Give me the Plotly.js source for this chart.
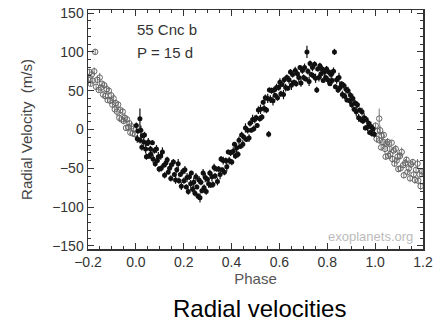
<!DOCTYPE html>
<html>
<head>
<meta charset="utf-8">
<script src="https://cdn.plot.ly/plotly-3.0.1.min.js"></script>
<style>html,body{margin:0;padding:0;background:#fff;}#chart{width:444px;height:325px;}</style>
</head>
<body>
<div id="chart"></div>
<script>
var phase = [
0.002,0.006,0.009,0.017,0.018,0.021,0.025,0.027,0.033,0.036,0.041,0.044,0.048,0.052,0.055,0.061,0.063,0.069,0.072,0.078,0.081,0.086,0.090,0.094,0.097,
0.104,0.106,0.111,0.117,0.120,0.126,0.131,0.135,0.141,0.146,0.150,0.157,0.161,0.166,0.171,0.177,0.180,0.186,0.190,0.196,
0.201,0.205,0.211,0.214,0.219,0.224,0.229,0.232,0.237,0.242,0.247,0.251,0.255,0.260,0.264,0.268,0.272,0.276,0.281,0.285,0.290,0.294,0.299,
0.304,0.309,0.312,0.318,0.322,0.327,0.331,0.337,0.341,0.346,0.352,0.356,0.361,0.365,0.370,0.376,0.380,0.386,0.390,0.396,
0.401,0.407,0.412,0.416,0.421,0.427,0.431,0.436,0.442,0.447,0.452,0.458,0.462,0.467,0.473,0.477,0.482,0.488,0.493,0.497,
0.503,0.507,0.512,0.518,0.521,0.527,0.532,0.536,0.541,0.546,0.551,0.555,0.558,0.562,0.567,0.573,0.577,0.582,0.588,0.592,0.597,
0.602,0.606,0.611,0.617,0.620,0.626,0.631,0.635,0.640,0.646,0.650,0.655,0.661,0.666,0.670,0.675,0.681,0.686,0.690,0.696,
0.701,0.705,0.710,0.715,0.719,0.724,0.728,0.733,0.738,0.742,0.747,0.751,0.756,0.760,0.765,0.769,0.774,0.779,0.783,0.788,0.793,0.797,
0.802,0.806,0.811,0.816,0.820,0.826,0.830,0.834,0.839,0.845,0.849,0.854,0.859,0.863,0.868,0.873,0.878,0.882,0.887,0.893,0.897,
0.902,0.907,0.912,0.916,0.921,0.926,0.931,0.935,0.940,0.945,0.949,0.954,0.959,0.963,0.968,0.973,0.977,0.982,0.986,0.991,0.996
];
var rv = [
5,-12,-2,14,-14,-1,-23,-8,-16,-7,-25,-35,-18,-16,-34,-25,-32,-17,-38,-27,-44,-25,-40,-35,-51,
-34,-50,-29,-46,-59,-43,-39,-55,-50,-63,-45,-42,-58,-65,-52,-44,-66,-58,-73,-54,
-66,-52,-74,-62,-80,-61,-70,-56,-77,-68,-82,-61,-74,-86,-65,-88,-68,-79,-56,-75,-62,-80,-64,
-70,-56,-72,-61,-71,-49,-60,-51,-67,-51,-58,-38,-52,-40,-55,-40,-48,-29,-40,-30,
-42,-28,-19,-34,-24,-32,-14,-22,-7,-19,-10,2,-13,-1,-11,8,-1,13,1,13,
15,5,25,14,26,16,35,27,41,25,40,-6,51,39,50,37,51,44,54,41,54,
61,46,58,45,64,54,67,53,64,74,57,71,61,76,59,72,67,80,60,76,
67,80,65,100,75,62,85,71,80,69,84,66,51,78,67,82,72,78,63,74,67,78,
64,74,59,71,63,75,100,55,64,51,67,54,59,45,57,43,52,38,50,37,44,
32,40,26,34,23,32,15,25,13,23,11,15,2,13,3,8,-4,4,-5,1,-6
];
var rvErr = [
4,5,3,13,4,6,4,3,5,4,6,4,3,5,4,4,6,3,5,4,4,5,3,6,4,
5,4,6,3,4,5,4,3,6,4,5,4,3,5,4,6,4,3,5,4,
4,5,3,6,4,4,5,3,4,6,4,5,3,4,5,6,4,3,5,4,6,4,3,
5,4,3,6,4,5,4,3,5,4,6,4,3,5,4,4,6,3,5,4,
4,5,3,4,6,4,5,3,4,5,4,6,3,4,5,4,3,6,4,5,
4,3,5,4,6,4,3,5,4,4,6,4,3,5,4,6,4,3,5,4,4,
5,4,3,6,4,5,4,3,5,4,6,4,3,5,4,4,6,3,5,4,
4,5,3,8,4,6,4,3,5,4,4,6,4,3,5,4,6,4,3,5,4,4,
5,4,3,6,4,5,4,3,5,4,6,4,3,5,4,4,6,3,5,4,4,
4,5,3,4,6,4,5,3,4,5,4,6,3,4,5,4,3,6,4,5,4
];
var xTicks = [-0.2, 0.0, 0.2, 0.4, 0.6, 0.8, 1.0, 1.2];
var xTickText = ['\u22120.2', '0.0', '0.2', '0.4', '0.6', '0.8', '1.0', '1.2'];
var yTicks = [-150, -100, -50, 0, 50, 100, 150];
var yTickText = ['\u2212150', '\u2212100', '\u221250', '0', '50', '100', '150'];
var labelPlanet = '55 Cnc b';
var labelPeriod = 'P = 15 d';

// repeated points outside [0,1] (drawn as open circles), built from the same data
var repPhase = [], repRv = [], repErr = [];
for (var i = 0; i < phase.length; i++) {
  if (phase[i] > 0.8) { repPhase.push(phase[i] - 1); repRv.push(rv[i]); repErr.push(rvErr[i]); }
  if (phase[i] < 0.2) { repPhase.push(phase[i] + 1); repRv.push(rv[i]); repErr.push(rvErr[i]); }
}

var font = 'Liberation Sans, Arial, Helvetica, sans-serif';
var traces = [
  {
    x: repPhase, y: repRv, type: 'scatter', mode: 'markers',
    marker: {symbol: 'circle-open', size: 5.5, color: '#666', line: {width: 1, color: '#666'}},
    error_y: {type: 'data', array: repErr, visible: true, thickness: 1, width: 0, color: '#777'},
    hoverinfo: 'skip', showlegend: false
  },
  {
    x: phase, y: rv, type: 'scatter', mode: 'markers',
    marker: {symbol: 'circle', size: 5, color: '#111'},
    error_y: {type: 'data', array: rvErr, visible: true, thickness: 1.2, width: 0, color: '#111'},
    showlegend: false
  }
];

var axisCommon = {
  showgrid: false, zeroline: false, showline: true, linecolor: '#333', linewidth: 1.5,
  mirror: 'ticks', ticks: 'inside', ticklen: 6, tickwidth: 1, tickcolor: '#333',
  tickfont: {family: font, size: 14, color: '#333'}
};

var layout = {
  width: 444, height: 325,
  margin: {l: 88, r: 21, t: 10, b: 76},
  paper_bgcolor: '#fff', plot_bgcolor: '#fff',
  font: {family: font, color: '#333'},
  xaxis: Object.assign({}, axisCommon, {
    range: [-0.2, 1.2], tickmode: 'array', tickvals: xTicks, ticktext: xTickText,
    minor: {dtick: 0.05, tick0: 0, ticks: 'inside', ticklen: 3, tickcolor: '#333'},
    title: {text: 'Phase', font: {family: font, size: 15, color: '#555'}, standoff: 3}
  }),
  yaxis: Object.assign({}, axisCommon, {
    range: [-154, 154], tickmode: 'array', tickvals: yTicks, ticktext: yTickText,
    minor: {dtick: 10, tick0: 0, ticks: 'inside', ticklen: 3, tickcolor: '#333'},
    title: {text: 'Radial Velocity \u00a0(m/s)', font: {family: font, size: 15, color: '#444'}, standoff: 16}
  }),
  annotations: [
    {xref: 'paper', yref: 'paper', x: 0.140, y: 0.92, xanchor: 'left', yanchor: 'middle',
     text: labelPlanet, showarrow: false, font: {family: font, size: 15, color: '#333'}},
    {xref: 'paper', yref: 'paper', x: 0.140, y: 0.824, xanchor: 'left', yanchor: 'middle',
     text: labelPeriod, showarrow: false, font: {family: font, size: 15, color: '#333'}},
    {xref: 'paper', yref: 'paper', x: 0.976, y: 0.054, xanchor: 'right', yanchor: 'middle',
     text: 'exoplanets.org', showarrow: false, font: {family: font, size: 13, color: '#bbb'}},
    {xref: 'paper', yref: 'paper', x: 0.513, y: -0.247, xanchor: 'center', yanchor: 'middle',
     text: 'Radial velocities', showarrow: false, font: {family: font, size: 24, color: '#000'}}
  ]
};

Plotly.newPlot('chart', traces, layout, {staticPlot: true, displayModeBar: false});
</script>
</body>
</html>
